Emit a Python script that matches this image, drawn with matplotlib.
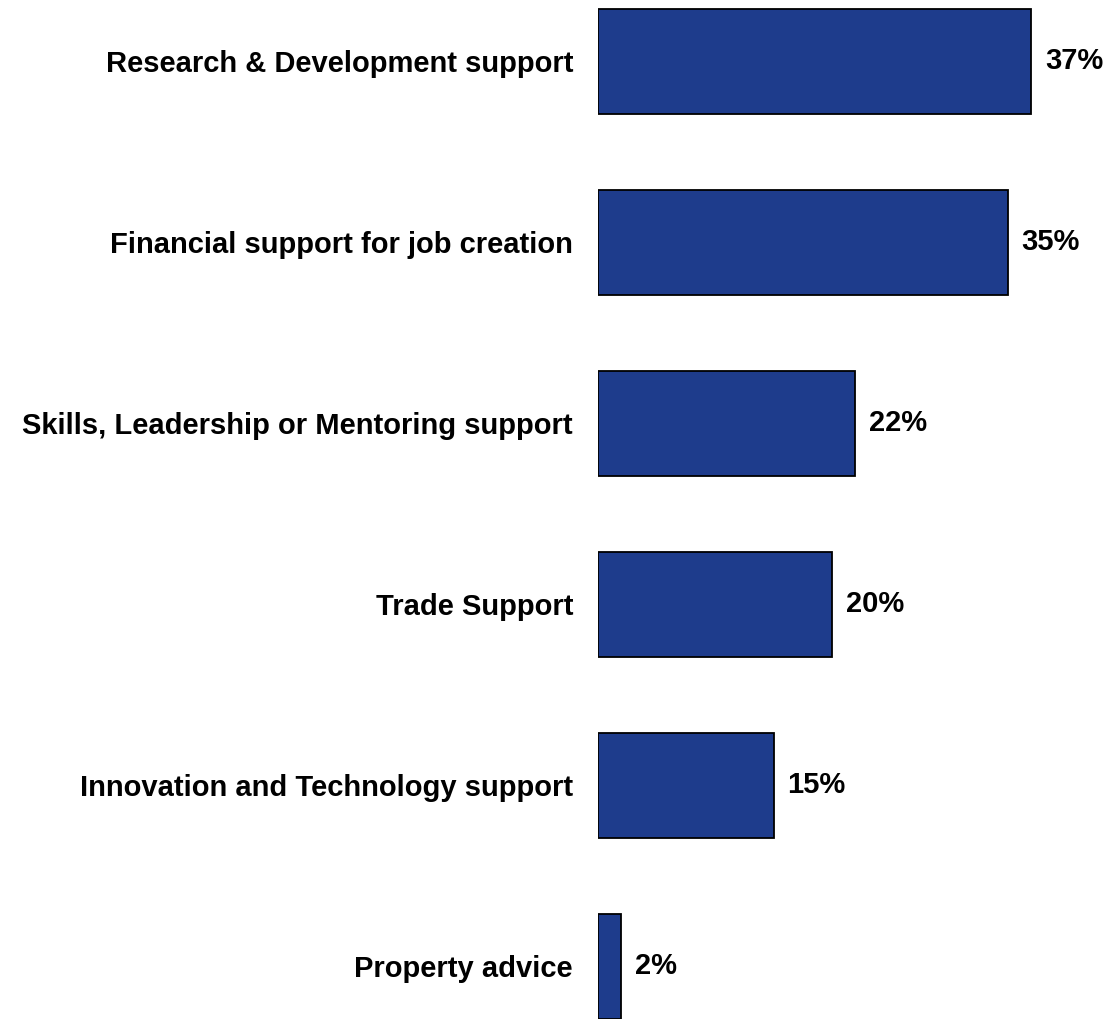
import matplotlib.pyplot as plt

# Data
categories = ['Research & Development support',
              'Financial support for job creation',
              'Skills, Leadership or Mentoring support',
              'Trade Support',
              'Innovation and Technology support',
              'Property advice']
values = [37, 35, 22, 20, 15, 2]

plt.rcParams['font.family'] = ['Liberation Sans', 'DejaVu Sans']

fig = plt.figure(figsize=(11.11, 10.19), dpi=100)
# axes spans from bar baseline to right edge of the figure
ax = fig.add_axes([598 / 1111, 0, 1 - 598 / 1111, 1])

pos = list(range(len(categories)))
ax.barh(pos, values, height=0.58, color='#1E3C8C', edgecolor='black',
        linewidth=1.3, zorder=2)

# value labels
for p, v in zip(pos, values):
    ax.text(v + 1.2, p, f'{v}%', va='center', ha='left',
            fontsize=21, fontweight='bold')

ax.set_xlim(0, 513 / 11.7)
ax.set_ylim(1019 / 181 - 61.5 / 181, -61.5 / 181)

ax.set_yticks(pos)
ax.set_yticklabels(categories, fontsize=21, fontweight='bold')
ax.tick_params(axis='y', length=0, pad=18)
ax.set_xticks([])
for s in ax.spines.values():
    s.set_visible(False)

fig.savefig('out.png', dpi=100)
